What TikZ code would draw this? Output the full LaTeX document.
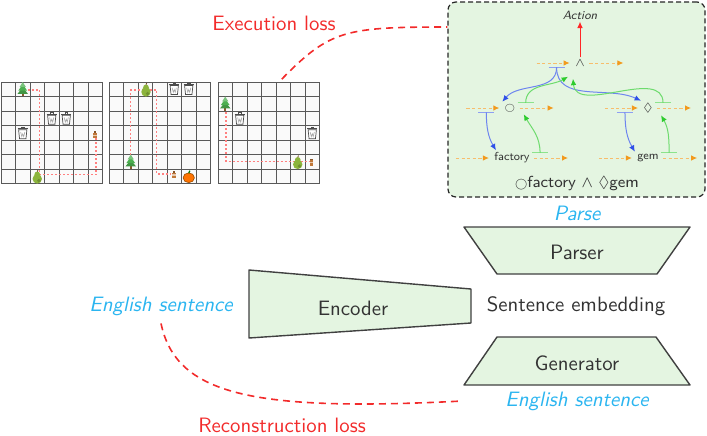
\documentclass[tikz,border=0pt]{standalone}
\usepackage{amssymb}
\usetikzlibrary{arrows.meta}
\renewcommand{\familydefault}{\sfdefault}

\definecolor{lossred}{HTML}{F22B2B}
\definecolor{langblue}{HTML}{2BB5F0}
\definecolor{modgreen}{HTML}{E4F5E1}
\definecolor{feedorange}{HTML}{F29A1D}
\definecolor{downblue}{HTML}{2F50E8}
\definecolor{upgreen}{HTML}{2ECC2E}
\definecolor{treegreen}{HTML}{4CAF50}
\definecolor{peargreen}{HTML}{8CB43C}
\definecolor{jugbrown}{HTML}{C0783A}

\newcommand{\nextop}{\mathord{\scalebox{0.72}{$\bigcirc$}}}

\tikzset{
  txt/.style={text=black!80, font=\fontsize{10.4}{12}\selectfont},
  lang/.style={text=langblue, font=\fontsize{10.4}{12}\selectfont\itshape},
  losstxt/.style={text=lossred, font=\fontsize{10.4}{12}\selectfont},
  lossline/.style={lossred, line width=0.8pt, dash pattern=on 3.5pt off 2.5pt},
  module/.style={draw=black!75, fill=modgreen, line width=0.7pt, line join=round},
  cellline/.style={black!65, line width=0.5pt},
  walk/.style={red!50, line width=0.6pt, dash pattern=on 1pt off 1pt},
  parsebox/.style={draw=black!85, fill=modgreen, rounded corners=4pt, line width=0.6pt,
    dash pattern=on 2.5pt off 1.5pt, inner sep=0pt},
  op/.style={text=black!75, font=\fontsize{6}{7}\selectfont, inner sep=1pt},
  word/.style={text=black!80, font=\fontsize{5.8}{7}\selectfont, inner sep=1pt},
  feed/.style={feedorange!65, line width=0.5pt, dash pattern=on 1.6pt off 1.2pt,
    -{Latex[length=3pt,width=2.8pt,color=feedorange]}},
  ptrdown/.style={downblue!70, line width=0.5pt, -{Latex[length=3.2pt,width=2.8pt,color=downblue]}},
  ptrup/.style={upgreen!70, line width=0.5pt, -{Latex[length=3.2pt,width=2.8pt,color=upgreen]}},
  bluebar/.style={downblue!55, line width=0.6pt},
  greenbar/.style={upgreen!55, line width=0.6pt},
  world/.style={x=7.25pt, y=-7.25pt, every pic/.style={scale=1.3}},
  % little map objects, one cell wide, y pointing down
  fir/.pic={
    \fill[brown!70!black] (-0.05,0.22) rectangle (0.05,0.36);
    \fill[treegreen!85!black] (-0.28,0.25) -- (0.28,0.25) -- (0,-0.1) -- cycle;
    \fill[treegreen] (-0.23,0.07) -- (0.23,0.07) -- (0,-0.27) -- cycle;
    \fill[treegreen!75!white] (-0.17,-0.12) -- (0.17,-0.12) -- (0,-0.38) -- cycle;
  },
  trashbin/.pic={
    \draw[black!70, line width=0.35pt, fill=white] (-0.22,-0.16) -- (0.22,-0.16) -- (0.17,0.32) -- (-0.17,0.32) -- cycle;
    \draw[black!70, line width=0.45pt] (-0.27,-0.22) -- (0.27,-0.22);
    \draw[black!70, line width=0.35pt] (-0.07,-0.22) -- (-0.07,-0.29) -- (0.07,-0.29) -- (0.07,-0.22);
    \draw[black!35, line width=0.3pt] (-0.11,-0.04) -- (-0.05,0.2) -- (0,0.05) -- (0.05,0.2) -- (0.11,-0.04);
  },
  pearfruit/.pic={
    \fill[peargreen] (0,0.14) circle (0.25);
    \fill[peargreen] (0,-0.1) circle (0.15);
    \fill[peargreen!80!black] (0.09,0.23) circle (0.1);
    \draw[brown!60!black, line width=0.4pt] (0,-0.24) -- (0.04,-0.33);
  },
  jug/.pic={
    \fill[jugbrown] (-0.1,-0.08) rectangle (0.1,0.2);
    \fill[jugbrown!70!black] (-0.06,-0.16) rectangle (0.06,-0.08);
    \fill[jugbrown!40!white] (-0.1,0.02) rectangle (0.1,0.09);
  },
  pumpkin/.pic={
    \fill[orange!90!red] (0,0.08) ellipse (0.3 and 0.26);
    \draw[orange!60!black, line width=0.3pt] (0,0.08) ellipse (0.3 and 0.26);
    \draw[green!45!black, line width=0.6pt] (0,-0.16) -- (0.06,-0.3);
  },
}

\begin{document}
\begin{tikzpicture}[x=0.5pt, y=-0.5pt]
\useasboundingbox (0,0) rectangle (707,435);

% the three grid worlds
\coordinate (map1) at (1,82);
\coordinate (map2) at (109,82);
\coordinate (map3) at (218,82);
\foreach \m in {map1,map2,map3} {
  \begin{scope}[shift={(\m)}, world]
    \fill[black!2] (0,0) rectangle (7,7);
    \foreach \i in {0,...,7} {
      \draw[cellline] (\i,0) -- (\i,7);
      \draw[cellline] (0,\i) -- (7,\i);
    }
  \end{scope}
}

\begin{scope}[shift={(map1)}, world]
  \draw[walk] (1.85,0.55) -- (2.65,0.55) -- (2.65,6.4) -- (6.55,6.4) -- (6.55,3.75);
  \pic at (1.5,0.5) {fir};
  \pic at (3.5,2.5) {trashbin};
  \pic at (4.5,2.5) {trashbin};
  \pic at (1.5,3.5) {trashbin};
  \pic at (6.5,3.6) {jug};
  \pic at (2.5,6.5) {pearfruit};
\end{scope}

\begin{scope}[shift={(map2)}, world]
  \draw[walk] (1.5,5.0) -- (1.5,0.55) -- (3.3,0.55) -- (3.3,6.35) -- (4.3,6.35);
  \pic at (2.55,0.5) {pearfruit};
  \pic at (4.5,0.45) {trashbin};
  \pic at (5.5,0.45) {trashbin};
  \pic at (1.5,5.5) {fir};
  \pic at (4.5,6.35) {jug};
  \pic at (5.5,6.5) {pumpkin};
\end{scope}

\begin{scope}[shift={(map3)}, world]
  \draw[walk] (0.55,2.1) -- (0.55,5.5) -- (6.3,5.5);
  \pic at (0.5,1.5) {fir};
  \pic at (1.5,2.5) {trashbin};
  \pic at (6.5,3.5) {trashbin};
  \pic at (5.5,5.5) {pearfruit};
  \pic at (6.45,5.5) {jug};
  \coordinate (exec-start) at (4.4,-0.2);
\end{scope}

% parse of the instruction
\node[parsebox, minimum width=128.5pt, minimum height=97.5pt] (pbox) at (576.5,99.5) {};
\node[word, font=\fontsize{6}{7}\selectfont\itshape] (action) at (580,15) {Action};
\node[op] (andop) at (580,63) {$\wedge$};
\node[op] (nxt) at (510,108) {$\nextop$};
\node[op] (evt) at (648,108) {$\lozenge$};
\node[word] (fac) at (512,158) {factory};
\node[word] (gem) at (648,158) {gem};
\node[text=black!80, font=\fontsize{8}{9}\selectfont] (formula) at (577,183) {$\nextop$factory $\wedge$ $\lozenge$gem};

\draw[red!85, line width=0.5pt, -{Latex[length=3.2pt,width=2.8pt]}] (andop.north) -- (action.south);

\foreach \n in {andop,nxt,evt,fac,gem} {
  \draw[feed] ([xshift=-18pt]\n.west) -- ([xshift=-1.5pt]\n.west);
  \draw[feed] ([xshift=1pt]\n.east) -- ([xshift=18pt]\n.east);
}
\foreach \n in {andop,nxt,evt} {
  \coordinate (\n-b) at ([xshift=-8pt,yshift=-2.2pt]\n.west);
  \draw[bluebar] ([xshift=-4pt]\n-b) -- ([xshift=4pt]\n-b);
}
\foreach \n in {nxt,evt,fac,gem} {
  \coordinate (\n-g) at ([xshift=4pt,yshift=2.6pt]\n.east);
  \draw[greenbar] ([xshift=-4pt]\n-g) -- ([xshift=4pt]\n-g);
}

\draw[ptrdown] (andop-b) to[out=-90,in=50] (nxt.north west);
\draw[ptrdown] (andop-b) to[out=-90,in=155] (evt.north west);
\draw[ptrdown] (nxt-b) to[out=-90,in=120] ([xshift=2pt]fac.north west);
\draw[ptrdown] (evt-b) to[out=-90,in=120] (gem.north west);
\draw[ptrup] (nxt-g) to[out=90,in=-150] ([xshift=-6pt,yshift=-4pt]andop.south);
\draw[ptrup] (evt-g) to[out=90,in=-85] ([xshift=-3.5pt,yshift=-5pt]andop.south);
\draw[ptrup] (fac-g) to[out=90,in=-60] ([xshift=3pt]nxt.south east);
\draw[ptrup] (gem-g) to[out=90,in=-60] ([xshift=3pt]evt.south east);

% encoder, parser and generator
\filldraw[module] (464,227) -- (690,227) -- (657,274) -- (497,274) -- cycle;
\node[txt] (parser) at (577,252) {Parser};
\node[lang] (parse) at (577,213) {Parse};
\filldraw[module] (249,270) -- (471,289) -- (471,323) -- (249,338) -- cycle;
\node[txt] (encoder) at (353,308) {Encoder};
\node[txt] (embed) at (576,306) {Sentence embedding};
\filldraw[module] (497,337) -- (656,337) -- (690,385) -- (464,385) -- cycle;
\node[txt] (generator) at (577,363) {Generator};
\node[lang] (engin) at (161,306) {English sentence};
\node[lang] (engout) at (577,401) {English sentence};

% losses
\node[losstxt] (execloss) at (274,23) {Execution loss};
\node[losstxt] (recloss) at (282,425) {Reconstruction loss};
\draw[lossline] (exec-start) .. controls (330,30) and (345,27) .. ([yshift=36.25pt]pbox.west);
\draw[lossline] ([yshift=-0.5pt]engin.south) .. controls (176,394) and (250,412) .. ([xshift=-18pt]engout.west);
\end{tikzpicture}
\end{document}
